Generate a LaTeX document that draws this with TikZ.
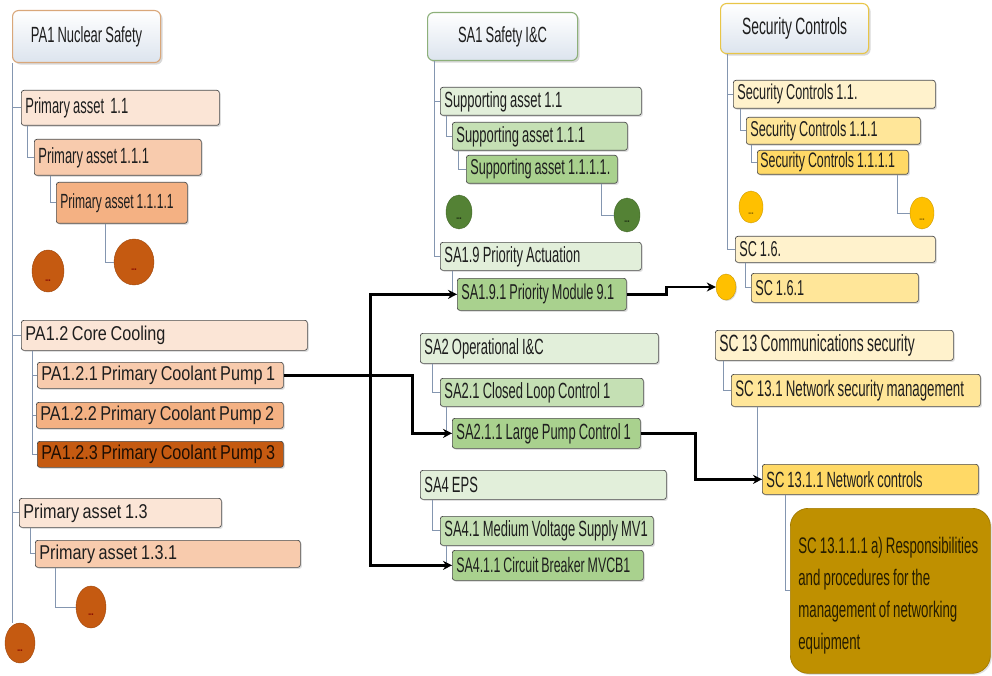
\documentclass[tikz,border=0pt]{standalone}
\usepackage{fontspec}
\newfontfamily\fontA{Liberation Sans}[FakeStretch=0.81, WordSpace=0.8]
\newfontfamily\fontB{Liberation Sans}[FakeStretch=0.59, WordSpace=0.85]
\usetikzlibrary{shapes.geometric,arrows.meta,shadows}
\definecolor{peachA}{HTML}{FBE5D6}
\definecolor{peachB}{HTML}{F8CBAD}
\definecolor{peachC}{HTML}{F4B183}
\definecolor{orangeD}{HTML}{C55A11}
\definecolor{greenA}{HTML}{E2EFDA}
\definecolor{greenB}{HTML}{C5E0B4}
\definecolor{greenC}{HTML}{A9D18E}
\definecolor{greenD}{HTML}{548235}
\definecolor{yelA}{HTML}{FFF2CC}
\definecolor{yelB}{HTML}{FFE699}
\definecolor{yelC}{HTML}{FFD966}
\definecolor{yelD}{HTML}{FFC000}
\definecolor{goldD}{HTML}{BF9000}
\definecolor{bordercol}{HTML}{4A4A4A}
\definecolor{txt}{HTML}{1E1E1E}
\definecolor{treecol}{HTML}{8496B0}
\definecolor{ttlbot}{HTML}{DCE4EE}
\definecolor{ttlorange}{HTML}{D9A77A}
\definecolor{ttlgreen}{HTML}{8DB07A}
\definecolor{ttlyellow}{HTML}{E8C547}
\tikzset{
  bx/.style={draw=bordercol, line width=0.7pt, rounded corners=2.5pt, anchor=north west,
    inner xsep=4pt, inner ysep=0pt, align=flush left, text=txt,
    execute at begin node={\hbox\bgroup}, execute at end node={\egroup},
    drop shadow={shadow xshift=1.5pt, shadow yshift=-1.5pt, opacity=0.25}},
  fA/.style={font=\fontA\fontsize{20}{22}\selectfont},
  fB/.style={font=\fontB\fontsize{#1}{22}\selectfont},
  fB/.default=22,
  ttl/.style={draw=#1, line width=1.1pt, rounded corners=6pt, anchor=north west, align=center,
    inner sep=0pt, top color=white, bottom color=ttlbot, text=txt,
    drop shadow={shadow xshift=2pt, shadow yshift=-2pt, opacity=0.3},
    font=\fontB\fontsize{22}{22}\selectfont},
  dtx/.style={font=\fontB\bfseries\fontsize{11}{11}\selectfont, text=#1},
  tree/.style={draw=treecol, line width=0.9pt},
  arr/.style={draw=black, line width=2.6pt, -{Stealth[length=9pt,width=9pt]}},
}
\begin{document}
\begin{tikzpicture}[x=1pt,y=-1pt]
\fill[white] (0,0) rectangle (992,676);
\useasboundingbox (0,0) rectangle (992,676);

% ---------- left column ----------
\node[ttl=ttlorange, minimum width=148pt, minimum height=52pt] (pa1) at (12,10) {PA1 Nuclear Safety};
\node[bx, fB, fill=peachA, text width=190pt, minimum height=35pt] (pa11) at (21,90) {Primary asset\ \ 1.1};
\node[bx, fB, fill=peachB, text width=159pt, minimum height=36pt] (pa111) at (34,139) {Primary asset 1.1.1};
\node[bx, fB=20.5, fill=peachC, text width=123pt, minimum height=41pt] (pa1111) at (56,182) {Primary asset 1.1.1.1};
\node[bx, fA, fill=peachA, text width=278pt, minimum height=30pt] (pa12) at (21,320) {PA1.2 Core Cooling};
\node[bx, fA, fill=peachB, text width=238pt, minimum height=26pt] (pa121) at (37,362) {PA1.2.1 Primary Coolant Pump 1};
\node[bx, fA, fill=peachC, text width=239pt, minimum height=26pt] (pa122) at (36,402) {PA1.2.2 Primary Coolant Pump 2};
\node[bx, fA, fill=orangeD, text=black!85!orangeD, text width=238pt, minimum height=26pt] (pa123) at (37,441) {PA1.2.3 Primary Coolant Pump 3};
\node[bx, fA, fill=peachA, text width=194pt, minimum height=29pt] (pa13) at (19,498) {Primary asset 1.3};
\node[bx, fA, fill=peachB, text width=257pt, minimum height=27pt] (pa131) at (35,540) {Primary asset 1.3.1};

\node[ellipse, draw=orangeD!80!black, fill=orangeD, minimum width=32pt, minimum height=42pt, inner sep=0pt,
  label={[dtx=red!50!black, yshift=-10pt]center:...}] (eL1) at (48,271) {};
\node[ellipse, draw=orangeD!80!black, fill=orangeD, minimum width=40pt, minimum height=46pt, inner sep=0pt,
  label={[dtx=red!50!black, yshift=-8pt]center:...}] (eL2) at (134,262) {};
\node[ellipse, draw=orangeD!80!black, fill=orangeD, minimum width=30pt, minimum height=42pt, inner sep=0pt,
  label={[dtx=red!50!black, yshift=-8pt]center:...}] (eL3) at (91,607) {};
\node[ellipse, draw=orangeD!80!black, fill=orangeD, minimum width=30pt, minimum height=40pt, inner sep=0pt,
  label={[dtx=red!50!black, yshift=-8pt]center:...}] (eL4) at (20,643) {};

\draw[tree] (pa1.south west) -- (pa1.south west |- eL4.north);
\draw[tree] (pa1.south west |- pa11.west) -- (pa11.west);
\draw[tree] (pa1.south west |- pa12.west) -- (pa12.west);
\draw[tree] (pa1.south west |- pa13.west) -- (pa13.west);
\draw[tree] ([xshift=6pt]pa11.south west) |- (pa111.west);
\draw[tree] ([xshift=16pt]pa111.south west) |- (pa1111.west);
\draw[tree] ([xshift=49pt]pa1111.south west) |- (eL2.west);
\draw[tree] ([xshift=11pt]pa12.south west) |- (pa121.west);
\draw[tree] ([xshift=11pt]pa12.south west) |- (pa122.west);
\draw[tree] ([xshift=11pt]pa12.south west) |- (pa123.west);
\draw[tree] ([xshift=11pt]pa13.south west) |- (pa131.west);
\draw[tree] ([xshift=20pt]pa131.south west) |- (eL3.west);

% ---------- middle column ----------
\node[ttl=ttlgreen, minimum width=150pt, minimum height=48pt] (sa1) at (427,12) {SA1 Safety I\&C};
\node[bx, fB, fill=greenA, text width=193pt, minimum height=28pt] (sa11) at (440,87) {Supporting asset 1.1};
\node[bx, fB, fill=greenB, text width=167pt, minimum height=28pt] (sa111) at (452,122) {Supporting asset 1.1.1};
\node[bx, fB=21.5, fill=greenC, text width=143pt, minimum height=28pt] (sa1111) at (466,155) {Supporting asset 1.1.1.1.};
\node[ellipse, draw=greenD!80!black, fill=greenD, minimum width=26pt, minimum height=34pt, inner sep=0pt,
  label={[dtx=black!70!greenD, yshift=-7pt]center:...}] (eM1) at (459,212) {};
\node[ellipse, draw=greenD!80!black, fill=greenD, minimum width=26pt, minimum height=34pt, inner sep=0pt,
  label={[dtx=black!70!greenD, yshift=-7pt]center:...}] (eM2) at (627,215) {};
\node[bx, fB, fill=greenA, text width=193pt, minimum height=28pt] (sa19) at (440,242) {SA1.9 Priority Actuation};
\node[bx, fB=21.5, fill=greenC, text width=161pt, minimum height=32pt] (sa191) at (457,278) {SA1.9.1 Priority Module 9.1};
\node[bx, fB, fill=greenA, text width=230pt, minimum height=30pt] (sa2) at (420,333) {SA2 Operational I\&C};
\node[bx, fB, fill=greenB, text width=195pt, minimum height=28pt] (sa21) at (440,378) {SA2.1 Closed Loop Control 1};
\node[bx, fB, fill=greenC, text width=180pt, minimum height=30pt] (sa211) at (452,418) {SA2.1.1 Large Pump Control 1};
\node[bx, fB, fill=greenA, text width=238pt, minimum height=29pt] (sa4) at (420,470) {SA4 EPS};
\node[bx, fB, fill=greenB, text width=205pt, minimum height=29pt] (sa41) at (440,516) {SA4.1 Medium Voltage Supply MV1};
\node[bx, fB=21, fill=greenC, text width=183pt, minimum height=30pt] (sa411) at (452,550) {SA4.1.1 Circuit Breaker MVCB1};

\draw[tree] ([xshift=7pt]sa1.south west) -- ([xshift=7pt]sa1.south west |- sa19.west) -- (sa19.west);
\draw[tree] ([xshift=7pt]sa1.south west |- sa11.west) -- (sa11.west);
\draw[tree] ([xshift=6pt]sa11.south west) |- (sa111.west);
\draw[tree] ([xshift=6pt]sa111.south west) |- (sa1111.west);
\draw[tree] ([xshift=135pt]sa1111.south west) |- (eM2.west);
\draw[tree] ([xshift=12pt]sa19.south west) |- (sa191.west);
\draw[tree] ([xshift=12pt]sa2.south west) |- (sa21.west);
\draw[tree] ([xshift=6pt]sa21.south west) |- (sa211.west);
\draw[tree] ([xshift=12pt]sa4.south west) |- (sa41.west);
\draw[tree] ([xshift=6pt]sa41.south west) |- (sa411.west);

% ---------- right column ----------
\node[ttl=ttlyellow, minimum width=148pt, minimum height=50pt, font=\fontB\fontsize{23.5}{24}\selectfont] (sc) at (720,3) {Security Controls};
\node[bx, fB=21.5, fill=yelA, text width=194pt, minimum height=28pt] (sc11) at (733,80) {Security Controls 1.1.};
\node[bx, fB=21.5, fill=yelB, text width=166pt, minimum height=27pt] (sc111) at (746,117) {Security Controls 1.1.1};
\node[bx, fB=21, fill=yelC, inner xsep=3pt, text width=145pt, minimum height=24pt] (sc1111) at (757,150) {Security Controls 1.1.1.1};
\node[ellipse, draw=yelD!80!black, fill=yelD, minimum width=24pt, minimum height=32pt, inner sep=0pt,
  label={[dtx=black!50!yelD, yshift=-7pt]center:...}] (eR1) at (751,207) {};
\node[ellipse, draw=yelD!80!black, fill=yelD, minimum width=24pt, minimum height=32pt, inner sep=0pt,
  label={[dtx=black!50!yelD, yshift=-7pt]center:...}] (eR2) at (922,213) {};
\node[bx, fB=21.5, fill=yelA, text width=192pt, minimum height=26pt] (sc16) at (735,236) {SC 1.6.};
\node[bx, fB=21.5, fill=yelB, text width=159pt, minimum height=29pt] (sc161) at (751,273) {SC 1.6.1};
\node[ellipse, draw=yelD!80!black, fill=yelD, minimum width=20pt, minimum height=26pt, inner sep=0pt,
  drop shadow={shadow xshift=1pt, shadow yshift=-1pt, opacity=0.3}] (eR3) at (726,287) {};
\node[bx, fB=23.5, fill=yelA, text width=230pt, minimum height=30pt] (sc13) at (715,330) {SC 13 Communications security};
\node[bx, fB=22.5, fill=yelB, text width=241pt, minimum height=32pt] (sc131) at (731,374) {SC 13.1 Network security management};
\node[bx, fB=22, fill=yelC, text width=208pt, minimum height=30pt] (sc1311) at (762,464) {SC 13.1.1 Network controls};
\node[draw=goldD!85!black, line width=0.7pt, fill=goldD, rounded corners=18pt, anchor=north west,
  text width=184pt, minimum height=165pt, inner xsep=8pt, inner ysep=0pt, align=flush left,
  text=black!80!goldD, font=\fontB\fontsize{22.5}{32}\selectfont,
  drop shadow={shadow xshift=1.5pt, shadow yshift=-1.5pt, opacity=0.25}] (big) at (790,508)
  {\rule{0pt}{26pt}\mbox{SC 13.1.1.1 a) Responsibilities}\\\mbox{and procedures for the}\\\mbox{management of networking}\\equipment};

\draw[tree] ([xshift=7pt]sc.south west) -- ([xshift=7pt]sc.south west |- sc16.west) -- (sc16.west);
\draw[tree] ([xshift=7pt]sc.south west |- sc11.west) -- (sc11.west);
\draw[tree] ([xshift=7pt]sc11.south west) |- (sc111.west);
\draw[tree] ([xshift=5pt]sc111.south west) |- (sc1111.west);
\draw[tree] ([xshift=140pt]sc1111.south west) |- (eR2.west);
\draw[tree] ([xshift=10pt]sc16.south west) |- (sc161.west);
\draw[tree] ([xshift=8pt]sc13.south west) |- (sc131.west);
\draw[tree] ([xshift=26pt]sc131.south west) |- (sc1311.west);
\draw[tree] ([xshift=23pt]sc1311.south west) |- (big.west);

% ---------- thick links ----------
\path (pa121.east) -- ++(87,0) coordinate (jA);
\draw[arr] (pa121.east) -- ++(129,0) |- (sa211.west);
\draw[arr] (jA) |- (sa191.west);
\draw[arr] (jA) |- (sa411.west);
\draw[arr] (sa191.east) -- ++(40,0) |- (eR3.west);
\draw[arr] (sa211.east) -- ++(55,0) |- (sc1311.west);
\end{tikzpicture}
\end{document}
